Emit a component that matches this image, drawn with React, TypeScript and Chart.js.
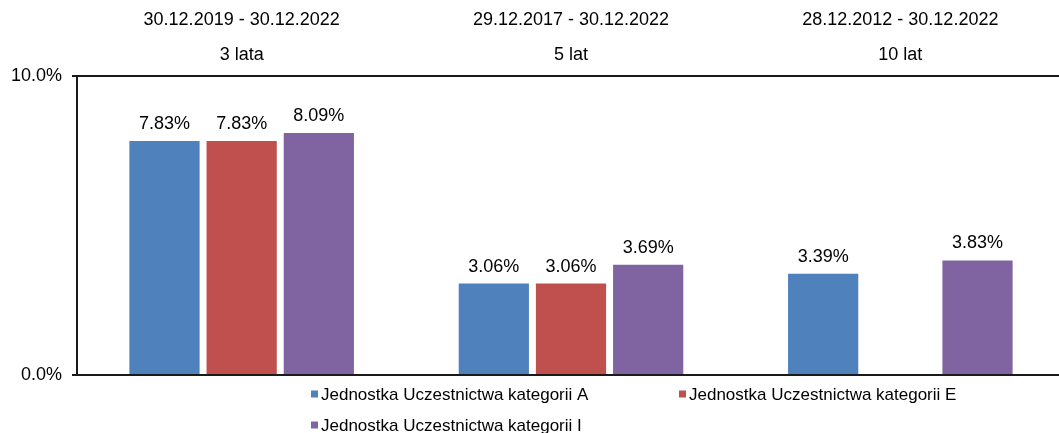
import React, { useEffect, useRef } from "react";
import { Chart, registerables } from "chart.js";

Chart.register(...registerables);

const periods = ["30.12.2019 - 30.12.2022", "29.12.2017 - 30.12.2022", "28.12.2012 - 30.12.2022"];
const horizons = ["3 lata", "5 lat", "10 lat"];
const seriesNames = [
  "Jednostka Uczestnictwa kategorii A",
  "Jednostka Uczestnictwa kategorii E",
  "Jednostka Uczestnictwa kategorii I",
];
const valuesA = [7.83, 3.06, 3.39];
const valuesE = [7.83, 3.06, null];
const valuesI = [8.09, 3.69, 3.83];
const seriesColors = ["#4F81BD", "#C0504D", "#8064A2"];
const yTicks = [0, 10];

const FONT = '"Liberation Sans", Arial, sans-serif';

const dataLabelPlugin = {
  id: "dataLabels",
  afterDatasetsDraw(chart: any) {
    const ctx = chart.ctx;
    ctx.save();
    ctx.font = `18px ${FONT}`;
    ctx.fillStyle = "#000";
    ctx.textAlign = "center";
    ctx.textBaseline = "alphabetic";
    chart.data.datasets.forEach((ds: any, di: number) => {
      const meta = chart.getDatasetMeta(di);
      meta.data.forEach((el: any, i: number) => {
        const v = ds.data[i];
        if (v == null) return;
        ctx.fillText(v.toFixed(2) + "%", el.x, el.y - 12);
      });
    });
    ctx.restore();
  },
};

const legendPlugin = {
  id: "customLegend",
  afterDraw(chart: any) {
    const ctx = chart.ctx;
    const area = chart.chartArea;
    const startX = 310;
    const colW = 368;
    const rowH = 31;
    const firstRowY = area.bottom + 19;
    ctx.save();
    ctx.font = `17px ${FONT}`;
    ctx.textAlign = "left";
    ctx.textBaseline = "middle";
    chart.data.datasets.forEach((ds: any, i: number) => {
      const col = i % 2;
      const row = Math.floor(i / 2);
      const x = startX + col * colW;
      const y = firstRowY + row * rowH;
      ctx.fillStyle = ds.backgroundColor;
      ctx.fillRect(x + 1, y - 3.5, 7, 7);
      ctx.fillStyle = "#000";
      ctx.fillText(ds.label, x + 11, y + 1);
    });
    ctx.restore();
  },
};

export default function App() {
  const canvasRef = useRef<HTMLCanvasElement | null>(null);

  useEffect(() => {
    if (!canvasRef.current) return;
    const chart = new Chart(canvasRef.current, {
      type: "bar",
      data: {
        labels: periods.map((p, i) => [p, horizons[i]]),
        datasets: [valuesA, valuesE, valuesI].map((vals, i) => ({
          label: seriesNames[i],
          data: vals,
          backgroundColor: seriesColors[i],
          borderWidth: 0,
          categoryPercentage: 0.703,
          barPercentage: 0.91,
        })),
      },
      options: {
        animation: false,
        responsive: true,
        maintainAspectRatio: false,
        layout: { padding: { left: 0, right: 0, top: 0, bottom: 58 } },
        plugins: {
          legend: { display: false },
          tooltip: { enabled: false },
        },
        scales: {
          x: {
            position: "top",
            grid: { display: false, drawTicks: false },
            border: { display: true, color: "#1a1a1a", width: 2 },
            ticks: {
              color: "#000",
              padding: 3,
              maxRotation: 0,
              autoSkip: false,
              font: { family: FONT, size: 18, lineHeight: 35 / 18 },
            },
            afterFit(scale: any) {
              scale.height = 76;
            },
          },
          y: {
            min: 0,
            max: 10,
            afterBuildTicks(scale: any) {
              scale.ticks = yTicks.map((v) => ({ value: v }));
            },
            grid: {
              color: "#1a1a1a",
              lineWidth: 2,
              drawOnChartArea: true,
              drawTicks: true,
              tickLength: 5,
            },
            border: { display: true, color: "#1a1a1a", width: 2 },
            ticks: {
              color: "#000",
              padding: 10,
              font: { family: FONT, size: 18 },
              callback: (v: any) => Number(v).toFixed(1) + "%",
            },
            afterFit(scale: any) {
              scale.width = 77;
            },
          },
        },
      },
      plugins: [dataLabelPlugin, legendPlugin],
    });
    return () => chart.destroy();
  }, []);

  return (
    <div
      style={{
        position: "fixed",
        left: 0,
        top: 0,
        width: 1059,
        height: 433,
        overflow: "hidden",
        background: "#fff",
      }}
    >
      <div style={{ position: "relative", width: 1065, height: 433 }}>
        <canvas ref={canvasRef} />
      </div>
    </div>
  );
}
